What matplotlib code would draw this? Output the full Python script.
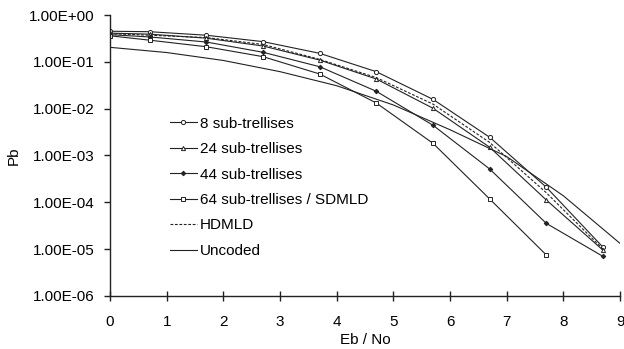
import numpy as np
import matplotlib
matplotlib.use("Agg")
import matplotlib.pyplot as plt
from matplotlib.ticker import FixedLocator, FuncFormatter

plt.rcParams['font.family'] = ['Liberation Sans', 'DejaVu Sans']

# Eb/No points of the simulated curves
ebno = [0, 0.7, 1.7, 2.7, 3.7, 4.7, 5.7, 6.7, 7.7, 8.7]

pb_8 = [0.45, 0.44, 0.37, 0.27, 0.152, 0.0616, 0.0158, 0.00245, 2.1e-4, 1.1e-5]
pb_24 = [0.41, 0.39, 0.32, 0.218, 0.109, 0.043, 0.0102, 0.0015, 1.12e-4, 9.5e-6]
pb_44 = [0.38, 0.34, 0.265, 0.16, 0.0787, 0.0235, 0.00442, 5.15e-4, 3.55e-5, 7.0e-6]
ebno_64 = ebno[:-1]
pb_64 = [0.36, 0.29, 0.21, 0.129, 0.055, 0.0132, 0.00182, 1.18e-4, 7.5e-6]
pb_hd = [0.40, 0.37, 0.33, 0.235, 0.113, 0.046, 0.0125, 0.0019, 1.6e-4, 1.0e-5]

# uncoded reference curve
ebno_unc = [0, 1, 2, 3, 4, 5, 6, 7, 8, 9]
pb_unc = [0.204, 0.158, 0.107, 0.0617, 0.0309, 0.0120, 0.00355, 9.5e-4, 1.38e-4, 1.33e-5]

xticks = [0, 1, 2, 3, 4, 5, 6, 7, 8, 9]
yticks = [1e-6, 1e-5, 1e-4, 1e-3, 1e-2, 1e-1, 1e0]

c = '#222222'
fs = 11
fig = plt.figure(figsize=(6.24, 3.49), dpi=100)
ax = fig.add_axes([0.1763, 0.1519, 0.8173, 0.8051])

lw = 0.8
ax.plot(ebno, pb_8, color=c, lw=lw, marker='o', ms=3.0, mfc='white', mew=0.7, label='8 sub-trellises')
ax.plot(ebno, pb_24, color=c, lw=lw, marker='^', ms=3.0, mfc='white', mew=0.7, label='24 sub-trellises')
ax.plot(ebno, pb_44, color=c, lw=lw, marker='D', ms=2.3, mfc=c, mew=0.7, label='44 sub-trellises')
ax.plot(ebno_64, pb_64, color=c, lw=lw, marker='s', ms=3.0, mfc='white', mew=0.7, label='64 sub-trellises / SDMLD')
ax.plot(ebno, pb_hd, color=c, lw=lw, ls=(0, (2.5, 1.5)), label='HDMLD')
ax.plot(ebno_unc, pb_unc, color=c, lw=lw, label='Uncoded')

ax.set_yscale('log')
ax.set_xlim(0, 9)
ax.set_ylim(1e-6, 1e0)
ax.xaxis.set_major_locator(FixedLocator(xticks))
ax.yaxis.set_major_locator(FixedLocator(yticks))
ax.yaxis.set_minor_locator(FixedLocator([]))
ax.yaxis.set_major_formatter(FuncFormatter(lambda v, p: '1.00E%+03d' % int(round(np.log10(v)))))

for s in ['top', 'right']:
    ax.spines[s].set_visible(False)
for s in ['left', 'bottom']:
    ax.spines[s].set_color(c)
    ax.spines[s].set_linewidth(1.0)
ax.tick_params(axis='x', direction='inout', length=7, width=1.0, color=c, labelsize=fs, pad=10)
ax.tick_params(axis='y', direction='out', length=4, width=1.0, color=c, labelsize=fs, pad=7)
ax.set_xlabel('Eb / No', fontsize=fs, labelpad=3)
ax.set_ylabel('Pb', fontsize=fs, labelpad=6)

ax.legend(loc='upper left', bbox_to_anchor=(0.105, 0.66), frameon=False, fontsize=fs,
          handlelength=1.8, handletextpad=0.2, labelspacing=0.75, borderaxespad=0)

fig.savefig('out.png', dpi=100)
